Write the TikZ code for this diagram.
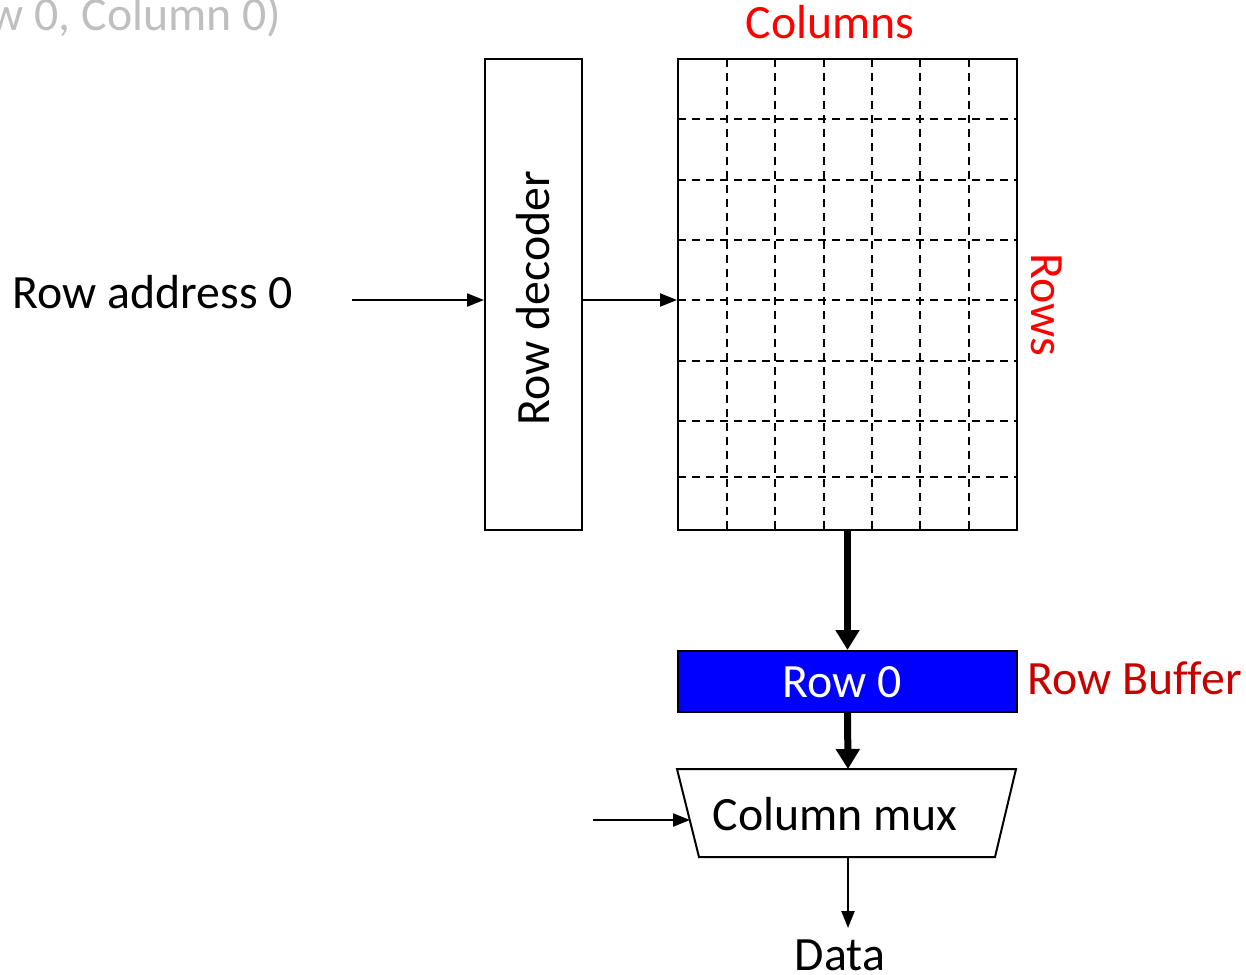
\documentclass[tikz,border=0pt]{standalone}
\usepackage{fontspec}
\setmainfont{Carlito}[Ligatures=NoCommon]
\usetikzlibrary{arrows.meta}
\definecolor{lightgrey}{RGB}{191,191,191}
\definecolor{bufred}{RGB}{200,0,0}

\begin{document}
\begin{tikzpicture}[x=0.1mm,y=-0.1mm,
    font=\fontsize{13.6}{16}\selectfont,
    box/.style={draw,line width=0.2mm,inner sep=0},
    gridline/.style={line width=0.22mm,dash pattern=on 0.8mm off 0.6mm},
    thinarrow/.style={line width=0.22mm,-{Triangle[length=1.7mm,width=1.3mm]}},
    bus/.style={line width=0.7mm,-{Triangle[length=2mm,width=2.3mm]}}]
  \useasboundingbox (0,0) rectangle (1246,974);

  % labels
  \node[lightgrey,anchor=base east,inner sep=0] (title) at (282,30) {(Row 0, Column 0)};
  \node[red,anchor=base,inner sep=0] (cols) at (830,38) {Columns};
  \node[red,rotate=-90,inner sep=0] (rows) at (1047,305) {Rows};
  \node[anchor=base west,inner sep=0] (addr) at (12,308) {Row address 0};

  % decoder and cell array
  \node[box,minimum width=9.7mm,minimum height=47.1mm] (dec) at (533.5,294.5) {};
  \node[rotate=90,inner sep=0] (declabel) at (533,298) {Row decoder};
  \foreach \gx in {727,775,824,872,920,969}
    \draw[gridline] (\gx,59) -- (\gx,530);
  \foreach \gy in {119,180,240,300,361,421,477}
    \draw[gridline] (678,\gy) -- (1017,\gy);
  \node[box,minimum width=33.9mm,minimum height=47.1mm] (arr) at (847.5,294.5) {};

  % row buffer
  \node[box,fill=blue,minimum width=33.9mm,minimum height=6.1mm] (buf) at (847.5,681.5) {};
  \node[white,anchor=base,inner sep=0] (buflabel) at (842,697) {Row 0};
  \node[bufred,anchor=base west,inner sep=0] (bufname) at (1027,694) {Row Buffer};

  % column mux
  \draw[line width=0.2mm] (677,769) -- (1016,769) -- (995,857) -- (699,857) -- cycle;
  \node[anchor=base,inner sep=0] (mux) at (835,830) {Column mux};
  \node[anchor=base,inner sep=0] (data) at (840,970) {Data};

  \coordinate (addrout) at (352,300);
  \coordinate (selin) at (593,820);
  \coordinate (muxin) at (690,820);
  \coordinate (muxtop) at (848,769);
  \coordinate (muxbot) at (848,857);
  \coordinate (dataarr) at (848,928);

  % connectors
  \draw[thinarrow] (addrout) -- (addrout -| dec.west);
  \draw[thinarrow] (dec.east |- addrout) -- (arr.west |- addrout);
  \draw[bus] (arr.south) -- (buf.north);
  \draw[bus] (buf.south) -- (muxtop);
  \draw[thinarrow] (selin) -- (muxin);
  \draw[thinarrow] (muxbot) -- (dataarr);
\end{tikzpicture}
\end{document}
